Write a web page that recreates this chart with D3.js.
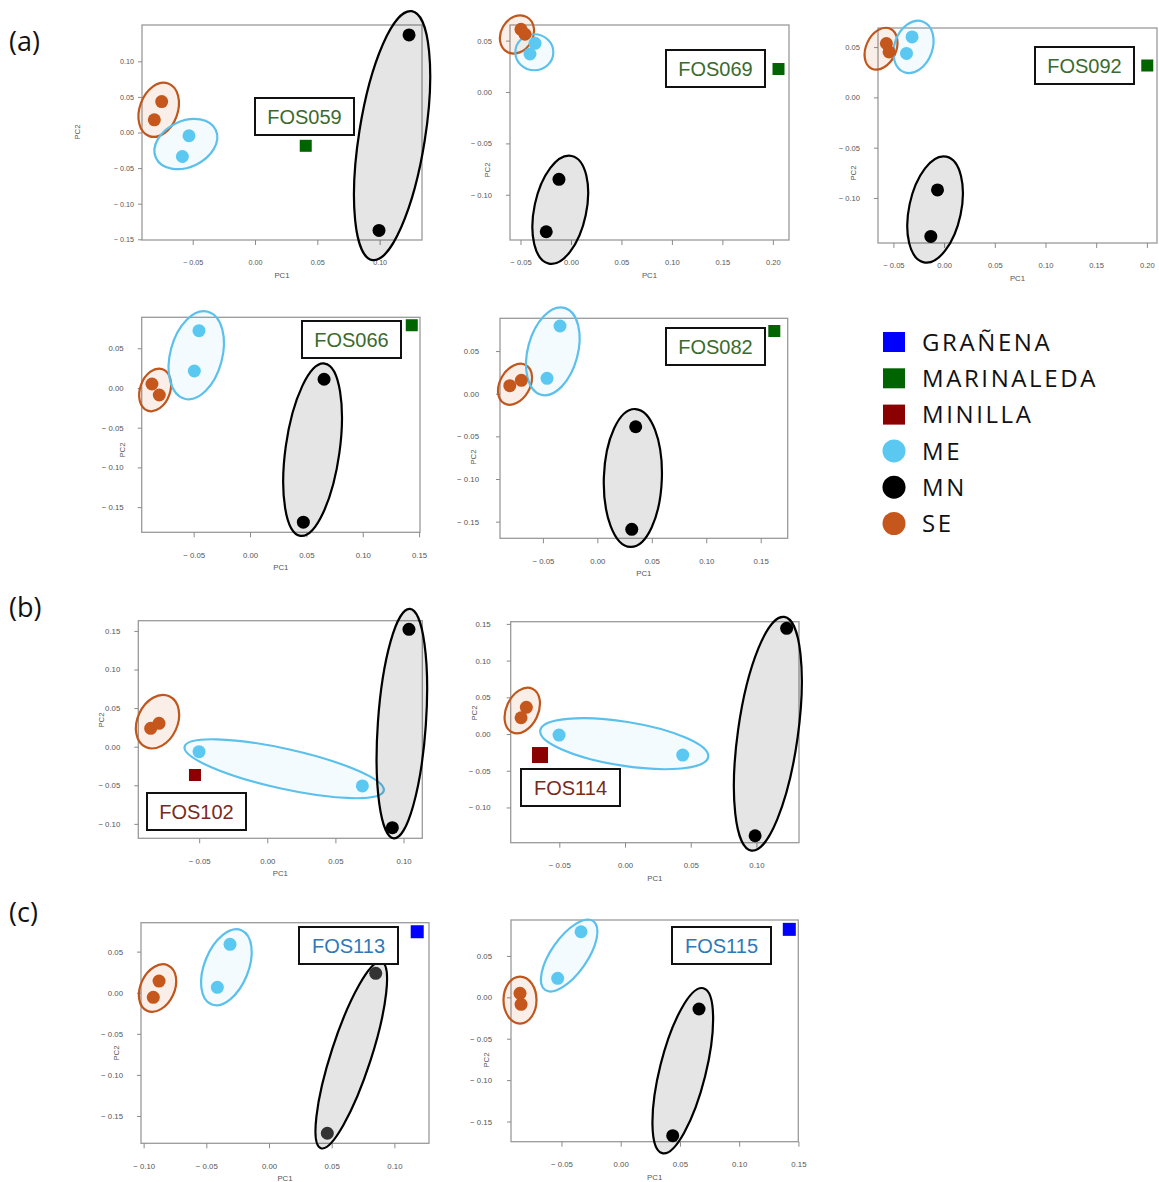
<!DOCTYPE html>
<html>
<head>
<meta charset="utf-8">
<script src="https://cdn.jsdelivr.net/npm/d3@7"></script>
<style>
  html, body { margin: 0; padding: 0; background: #fff; }
  svg { display: block; }
</style>
</head>
<body>
<svg id="fig" width="1159" height="1182"></svg>
<script>
// ---- Data -----------------------------------------------------------------
const panelIds   = ["FOS059", "FOS069", "FOS092", "FOS066", "FOS082", "FOS102", "FOS114", "FOS113", "FOS115"];
const panelSite  = ["MARINALEDA", "MARINALEDA", "MARINALEDA", "MARINALEDA", "MARINALEDA", "MINILLA", "MINILLA", "GRAÑENA", "GRAÑENA"];
const sites      = ["GRAÑENA", "MARINALEDA", "MINILLA"];
const groups     = ["ME", "MN", "SE"];

// visible PC1 / PC2 range of each plot
const pc1Range = [[-0.0907, 0.134], [-0.0604, 0.216], [-0.0652, 0.210], [-0.0961, 0.1508], [-0.0894, 0.1748],
                  [-0.0947, 0.1138], [-0.087, 0.1324], [-0.1021, 0.1276], [-0.0926, 0.1499]];
const pc2Range = [[-0.151, 0.151], [-0.144, 0.0652], [-0.1448, 0.069], [-0.1817, 0.089], [-0.1695, 0.0884],
                  [-0.1187, 0.1632], [-0.148, 0.153], [-0.1832, 0.0852], [-0.1744, 0.0934]];

const pc1Ticks = [
  [-0.05, 0, 0.05, 0.10],
  [-0.05, 0, 0.05, 0.10, 0.15, 0.20],
  [-0.05, 0, 0.05, 0.10, 0.15, 0.20],
  [-0.05, 0, 0.05, 0.10, 0.15],
  [-0.05, 0, 0.05, 0.10, 0.15],
  [-0.05, 0, 0.05, 0.10],
  [-0.05, 0, 0.05, 0.10],
  [-0.10, -0.05, 0, 0.05, 0.10],
  [-0.05, 0, 0.05, 0.10, 0.15]
];
const pc2Ticks = [
  [-0.15, -0.10, -0.05, 0, 0.05, 0.10],
  [-0.10, -0.05, 0, 0.05],
  [-0.10, -0.05, 0, 0.05],
  [-0.15, -0.10, -0.05, 0, 0.05],
  [-0.15, -0.10, -0.05, 0, 0.05],
  [-0.10, -0.05, 0, 0.05, 0.10, 0.15],
  [-0.10, -0.05, 0, 0.05, 0.10, 0.15],
  [-0.15, -0.10, -0.05, 0, 0.05],
  [-0.15, -0.10, -0.05, 0, 0.05]
];

// sample scores [PC1, PC2] per plot
const scoresSE = [
  [[-0.0749, 0.0435], [-0.0808, 0.0178]],
  [[-0.0495, 0.0610], [-0.0455, 0.0562]],
  [[-0.0569, 0.0536], [-0.0543, 0.0452]],
  [[-0.0870, 0.0050], [-0.0805, -0.0088]],
  [[-0.0804, 0.0094], [-0.0698, 0.0157]],
  [[-0.0856, 0.0238], [-0.0795, 0.0303]],
  [[-0.0751, 0.0364], [-0.0791, 0.0222]],
  [[-0.0877, 0.0142], [-0.0923, -0.0056]],
  [[-0.0850, 0.0048], [-0.0841, -0.0085]]
];
const scoresME = [
  [[-0.0530, -0.0046], [-0.0583, -0.0337]],
  [[-0.0356, 0.0474], [-0.0406, 0.0370]],
  [[-0.0316, 0.0601], [-0.0371, 0.0437]],
  [[-0.0453, 0.0722], [-0.0494, 0.0214]],
  [[-0.0343, 0.0794], [-0.0462, 0.0180]],
  [[-0.0501, -0.0065], [0.0698, -0.0509]],
  [[-0.0502, -0.0014], [0.0439, -0.0286]],
  [[-0.0311, 0.0589], [-0.0412, 0.0066]],
  [[-0.0335, 0.0792], [-0.0532, 0.0229]]
];
const scoresMN = [
  [[0.1236, 0.1370], [0.0995, -0.1376]],
  [[-0.0119, -0.0850], [-0.0245, -0.1360]],
  [[-0.0065, -0.0920], [-0.0131, -0.1383]],
  [[0.0657, 0.0110], [0.0473, -0.1690]],
  [[0.0352, -0.0387], [0.0316, -0.1590]],
  [[0.1040, 0.1520], [0.0918, -0.1049]],
  [[0.1230, 0.1440], [0.0990, -0.1385]],
  [[0.0851, 0.0236], [0.0465, -0.1710]],
  [[0.0661, -0.0141], [0.0439, -0.1671]]
];
// the projected sample of each plot
const scoresSample = [
  [0.0407, -0.0187], [0.2056, 0.0224], [0.2004, 0.0317], [0.1435, 0.0790], [0.1625, 0.0735],
  [-0.0531, -0.0367], [-0.0647, -0.0286], [0.1182, 0.0742], [0.1423, 0.0821]
];

// group outline centres [PC1, PC2]
const hullCentreSE = [[-0.0773, 0.0319], [-0.0535, 0.0560], [-0.0622, 0.0484], [-0.0842, -0.0025], [-0.0756, 0.0111],
                      [-0.0806, 0.0324], [-0.0782, 0.0320], [-0.0889, 0.0057], [-0.0850, -0.0033]];
const hullCentreME = [[-0.0555, -0.0162], [-0.0363, 0.0387], [-0.0302, 0.0502], [-0.0477, 0.0412], [-0.0409, 0.0497],
                      [0.0124, -0.0286], [-0.0006, -0.0132], [-0.0340, 0.0310], [-0.0435, 0.0505]];
const hullCentreMN = [[0.1100, -0.0044], [-0.0106, -0.1146], [-0.0089, -0.1115], [0.0555, -0.0777], [0.0326, -0.0988],
                      [0.0988, 0.0298], [0.1087, 0.0004], [0.0656, -0.0758], [0.0524, -0.0886]];

// ---- Layout & style --------------------------------------------------------
// plot frame in page pixels, label box corner, PC2 title anchor, y label gap
const frames = [
  {l: 142,   r: 422,   t: 25,    b: 240,    box: [255, 98],    pc2: [77, 132],    gap: 8,  fs: 7.2},
  {l: 510,   r: 789,   t: 25,    b: 240,    box: [666, 50],    pc2: [487, 170],   gap: 18, fs: 7.6},
  {l: 878,   r: 1157,  t: 28,    b: 243,    box: [1035, 47],   pc2: [853, 173],   gap: 18, fs: 7.6},
  {l: 141.7, r: 420,   t: 317.3, b: 532.3,  box: [302, 321],   pc2: [122, 450],   gap: 18, fs: 7.8},
  {l: 500,   r: 787.7, t: 318.3, b: 538.3,  box: [666, 328],   pc2: [473, 457],   gap: 21, fs: 7.8},
  {l: 138.3, r: 422.3, t: 620.7, b: 838.3,  box: [147, 793],   pc2: [101, 720],   gap: 18, fs: 7.8},
  {l: 510.7, r: 799,   t: 621.7, b: 842.7,  box: [521, 769],   pc2: [474, 713],   gap: 20, fs: 7.8},
  {l: 141,   r: 429,   t: 922.7, b: 1143.3, box: [299, 927],   pc2: [116, 1053],  gap: 18, fs: 7.8},
  {l: 511,   r: 798.3, t: 920,   b: 1141.7, box: [672, 927],   pc2: [486, 1060],  gap: 19, fs: 7.8}
];
// outline shape per plot: [semi-major px, semi-minor px, rotation deg]
const shapeSE = [[28, 19, -70], [20, 16, -60], [22, 15, -65], [22, 15, -70], [22, 15, -60], [28, 20, -65], [24, 16, -65], [25, 17, -65], [23.5, 16.5, -90]];
const shapeME = [[33, 23, -25], [19, 18, 0], [27, 19, -70], [45, 26, -75], [45, 25, -75], [102, 20, 12.5], [85, 22, 9], [40, 22, -68], [42, 18, -55]];
const shapeMN = [[126, 33, -81], [55, 26, -78], [54, 26, -78], [87, 27, -82], [69, 29, -88], [115, 24, -86], [118, 30, -82], [98, 20, -72], [85, 23, -76]];
const sampleSize = [12, 12, 12, 12, 12, 12, 16, 13, 13];

const groupFill   = {ME: "#5bc8f2", MN: "#000000", SE: "#c5561c"};
const groupStroke = {ME: "#5bc0eb", MN: "#000000", SE: "#c0561c"};
const groupTint   = {ME: "rgba(91,192,235,0.07)", MN: "rgba(0,0,0,0.10)", SE: "rgba(197,86,28,0.10)"};
const siteFill    = {"GRAÑENA": "#0000ff", "MARINALEDA": "#006400", "MINILLA": "#8b0000"};
const siteText    = {"GRAÑENA": "#2e78b8", "MARINALEDA": "#3b6b2c", "MINILLA": "#7a2a1c"};

const svg = d3.select("#fig");
const fmt = d => d3.format(".2f")(d).replace("−", "\u2212 ");

panelIds.forEach((id, i) => {
  const f = frames[i];
  const x = d3.scaleLinear().domain(pc1Range[i]).range([f.l, f.r]);
  const y = d3.scaleLinear().domain(pc2Range[i]).range([f.b, f.t]);
  const g = svg.append("g").attr("class", "panel " + id);

  // frame
  g.append("rect").attr("x", f.l).attr("y", f.t)
    .attr("width", f.r - f.l).attr("height", f.b - f.t)
    .attr("fill", "none").attr("stroke", "#9a9a9a").attr("stroke-width", 1.3);

  // axes
  const ax = g.append("g").attr("transform", `translate(0,${f.b})`)
    .call(d3.axisBottom(x).tickValues(pc1Ticks[i]).tickSize(5).tickPadding(15).tickFormat(fmt));
  const ay = g.append("g").attr("transform", `translate(${f.l},0)`)
    .call(d3.axisLeft(y).tickValues(pc2Ticks[i]).tickSize(4).tickPadding(f.gap - 4).tickFormat(fmt));
  [ax, ay].forEach(a => {
    a.select(".domain").remove();
    a.selectAll(".tick line").attr("stroke", "#8a8a8a");
    a.selectAll(".tick text").attr("fill", "#555").attr("font-size", f.fs)
      .attr("font-family", "Liberation Sans, Arial, sans-serif");
  });

  g.append("text").attr("x", (f.l + f.r) / 2).attr("y", f.b + 38)
    .attr("text-anchor", "middle").attr("font-size", 7.8).attr("fill", "#555")
    .attr("font-family", "Liberation Sans, Arial, sans-serif").text("PC1");
  g.append("text").attr("transform", `translate(${f.pc2[0]},${f.pc2[1]}) rotate(-90)`)
    .attr("text-anchor", "middle").attr("dy", "0.35em").attr("font-size", 7.8).attr("fill", "#555")
    .attr("font-family", "Liberation Sans, Arial, sans-serif").text("PC2");

  // group outlines
  const outlines = [
    {grp: "SE", c: hullCentreSE[i], s: shapeSE[i]},
    {grp: "ME", c: hullCentreME[i], s: shapeME[i]},
    {grp: "MN", c: hullCentreMN[i], s: shapeMN[i]}
  ];
  g.selectAll("ellipse.hull").data(outlines).join("ellipse")
    .attr("class", "hull")
    .attr("transform", d => `translate(${x(d.c[0])},${y(d.c[1])}) rotate(${d.s[2]})`)
    .attr("rx", d => d.s[0]).attr("ry", d => d.s[1])
    .attr("fill", d => groupTint[d.grp])
    .attr("stroke", d => groupStroke[d.grp]).attr("stroke-width", 2.2);

  // samples
  const pts = [
    ...scoresSE[i].map(p => ({grp: "SE", p})),
    ...scoresME[i].map(p => ({grp: "ME", p})),
    ...scoresMN[i].map(p => ({grp: "MN", p}))
  ];
  g.selectAll("circle.pt").data(pts).join("circle")
    .attr("class", "pt")
    .attr("cx", d => x(d.p[0])).attr("cy", d => y(d.p[1])).attr("r", 6.5)
    .attr("fill", d => (d.grp === "MN" && i === 7) ? "#333" : groupFill[d.grp]);

  // projected sample
  const s = sampleSize[i];
  g.append("rect")
    .attr("x", x(scoresSample[i][0]) - s / 2).attr("y", y(scoresSample[i][1]) - s / 2)
    .attr("width", s).attr("height", s).attr("fill", siteFill[panelSite[i]]);

  // sample label box
  g.append("rect").attr("x", f.box[0]).attr("y", f.box[1])
    .attr("width", 99).attr("height", 37)
    .attr("fill", "#fff").attr("stroke", "#111").attr("stroke-width", 2);
  g.append("text").attr("x", f.box[0] + 49.5).attr("y", f.box[1] + 18.5)
    .attr("dy", "0.36em").attr("text-anchor", "middle")
    .attr("font-family", "Liberation Sans, Arial, sans-serif").attr("font-size", 20)
    .attr("fill", siteText[panelSite[i]]).text(id);
});

// section letters
[["(a)", 51], ["(b)", 617], ["(c)", 922]].forEach(([t, yy]) => {
  svg.append("text").attr("x", 9).attr("y", yy)
    .attr("font-family", "Open Sans, Noto Sans, sans-serif").attr("font-size", 27)
    .attr("fill", "#111").text(t);
});

// legend
const legendItems = [
  ...sites.map(k => ({k, shape: "square", color: siteFill[k]})),
  ...groups.map(k => ({k, shape: "circle", color: groupFill[k]}))
];
const lg = svg.append("g").attr("class", "legend");
legendItems.forEach((d, j) => {
  const cy = 342 + j * 36.3;
  if (d.shape === "square") {
    lg.append("rect").attr("x", 883).attr("y", cy - 10).attr("width", 22).attr("height", 20).attr("fill", d.color);
  } else {
    lg.append("circle").attr("cx", 894).attr("cy", cy).attr("r", 11.5).attr("fill", d.color);
  }
  lg.append("text").attr("x", 922).attr("y", cy).attr("dy", "0.36em")
    .attr("font-family", "Open Sans, Noto Sans, sans-serif").attr("font-size", 24)
    .attr("letter-spacing", 2.6).attr("fill", "#111").text(d.k);
});
</script>
</body>
</html>
